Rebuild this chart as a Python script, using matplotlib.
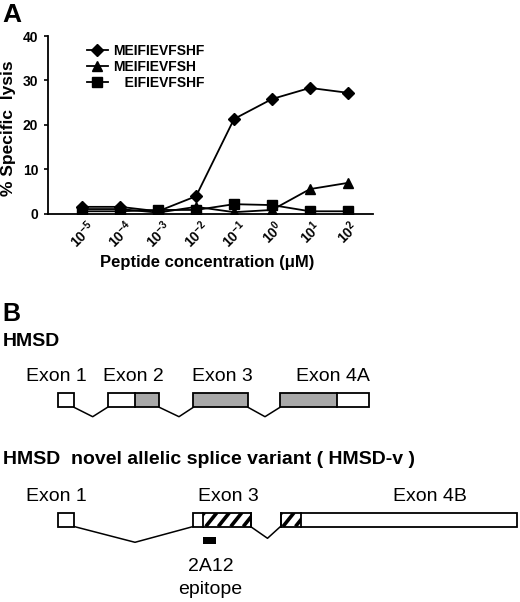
import matplotlib
matplotlib.use("Agg")
import matplotlib.pyplot as plt
import numpy as np
from matplotlib.patches import Rectangle

plt.rcParams['font.family'] = ['Liberation Sans', 'DejaVu Sans']
plt.rcParams['mathtext.fontset'] = 'custom'
plt.rcParams['mathtext.rm'] = 'Liberation Sans'
plt.rcParams['mathtext.bf'] = 'Liberation Sans:bold'

# ---- panel A data: % specific lysis vs peptide concentration
conc_labels = [r'$\mathbf{10^{-5}}$', r'$\mathbf{10^{-4}}$', r'$\mathbf{10^{-3}}$',
               r'$\mathbf{10^{-2}}$', r'$\mathbf{10^{-1}}$', r'$\mathbf{10^{0}}$',
               r'$\mathbf{10^{1}}$', r'$\mathbf{10^{2}}$']
lysis_meifievfshf = [1.5, 1.5, 0.5, 3.9, 21.3, 25.8, 28.3, 27.2]
lysis_meifievfsh = [1.0, 1.0, 0.2, 1.5, 0.3, 0.8, 5.5, 6.9]
lysis_eifievfshf = [0.5, 0.5, 0.8, 0.8, 2.1, 1.9, 0.5, 0.5]

# ---- panel B data: exon structure (x in figure pixels)
hmsd_labels = ["Exon 1", "Exon 2", "Exon 3", "Exon 4A"]
hmsd_start = [57.7, 107.5, 193.3, 280]
hmsd_end = [74, 159.3, 248, 369]
hmsd_gray = [None, (134.5, 159.3), (193.3, 248), (280, 336.7)]
hmsd_label_x = [56, 133, 222, 333]
hmsd_introns = [(74, 92.7, 107.5), (159.3, 179, 193.3), (248, 265, 280)]

var_labels = ["Exon 1", "Exon 3", "Exon 4B"]
var_start = [57.7, 193.3, 280.5]
var_end = [74, 250.5, 517]
var_hatch = [None, (203.3, 250.5), (280.5, 300.5)]
var_label_x = [56, 228, 430]
var_introns = [(74, 135, 193.3), (250.5, 267.5, 280.5)]
epitope = (203.3, 215.5)

fig = plt.figure(figsize=(5.2, 6.02), dpi=100)

ax = fig.add_axes([48 / 520, 1 - 213.5 / 602, 325 / 520, 177.5 / 602])
x = list(range(len(conc_labels)))
ax.plot(x, lysis_meifievfshf, color='black', lw=1.3, marker='D', ms=6.5, label='MEIFIEVFSHF')
ax.plot(x, lysis_meifievfsh, color='black', lw=1.3, marker='^', ms=7, label='MEIFIEVFSH')
ax.plot(x, lysis_eifievfshf, color='black', lw=1.3, marker='s', ms=7, label='   EIFIEVFSHF')
ax.set_xlim(-0.9, 7.66)
ax.set_ylim(0, 40)
ax.set_yticks([0, 10, 20, 30, 40])
ax.set_xticks(x)
ax.set_xticklabels(conc_labels, rotation=45, ha='center', va='top', fontsize=10)
ax.tick_params(axis='x', length=0, pad=3)
ax.tick_params(axis='y', length=3, width=1.2, direction='out', labelsize=10, pad=4)
for t in ax.get_yticklabels():
    t.set_fontweight('bold')
for s in ['top', 'right']:
    ax.spines[s].set_visible(False)
for s in ['left', 'bottom']:
    ax.spines[s].set_linewidth(1.3)
ax.set_ylabel('% Specific  lysis', fontsize=12.5, fontweight='bold')
ax.yaxis.set_label_coords(-32 / 325, 0.479)
ax.set_xlabel('Peptide concentration (\u03bcM)', fontsize=12, fontweight='bold')
ax.xaxis.set_label_coords(0.489, -0.235)
leg = ax.legend(loc='upper left', bbox_to_anchor=(0.12, 0.955), frameon=False,
                borderaxespad=0, borderpad=0, handlelength=1.5, handletextpad=0.35,
                labelspacing=0.15, prop={'weight': 'bold', 'size': 10})

fig.text(2 / 520, 1 - 15 / 602, 'A', fontsize=19, fontweight='bold', va='center', ha='left')
fig.text(2 / 520, 1 - 314 / 602, 'B', fontsize=18, fontweight='bold', va='center', ha='left')

# ---- panel B: gene diagram in pixel coordinates
bx = fig.add_axes([0, 0, 1, 300 / 602])
bx.set_xlim(0, 520)
bx.set_ylim(602, 302)
bx.axis('off')

bx.text(3, 341, 'HMSD', fontsize=14, fontweight='bold', va='center', ha='left')
bx.text(3, 459, 'HMSD  novel allelic splice variant ( HMSD-v )', fontsize=14,
        fontweight='bold', va='center', ha='left')

row1_top, row1_bot = 392.5, 407.3
for lab, x0, x1, g, lx in zip(hmsd_labels, hmsd_start, hmsd_end, hmsd_gray, hmsd_label_x):
    if g is not None:
        bx.add_patch(Rectangle((g[0], row1_top), g[1] - g[0], row1_bot - row1_top,
                               facecolor='#a8a8a8', edgecolor='none'))
    bx.add_patch(Rectangle((x0, row1_top), x1 - x0, row1_bot - row1_top,
                           facecolor='none', edgecolor='black', lw=1.3))
    if g is not None and g[0] > x0:
        bx.plot([g[0], g[0]], [row1_top, row1_bot], color='black', lw=1.3)
    if g is not None and g[1] < x1:
        bx.plot([g[1], g[1]], [row1_top, row1_bot], color='black', lw=1.3)
    bx.text(lx, 376.5, lab, fontsize=14, ha='center', va='center')
for a, m, b in hmsd_introns:
    bx.plot([a, m, b], [row1_bot, 416.7, row1_bot], color='black', lw=1.1)

row2_top, row2_bot = 512.5, 526.5
hh = row2_bot - row2_top
for lab, x0, x1, h, lx in zip(var_labels, var_start, var_end, var_hatch, var_label_x):
    if h is not None:
        clip = Rectangle((h[0], row2_top), h[1] - h[0], hh, facecolor='white', edgecolor='none')
        bx.add_patch(clip)
        for sx in np.arange(h[0] - hh + 4, h[1] + 1, 12.5):
            ln, = bx.plot([sx, sx + hh * 0.8], [row2_bot, row2_top], color='black', lw=2.6,
                          solid_capstyle='butt')
            ln.set_clip_path(clip)
        bx.plot([h[0], h[0]], [row2_top, row2_bot], color='black', lw=1.3)
        bx.plot([h[1], h[1]], [row2_top, row2_bot], color='black', lw=1.3)
    bx.add_patch(Rectangle((x0, row2_top), x1 - x0, hh,
                           facecolor='none', edgecolor='black', lw=1.3))
    bx.text(lx, 496.5, lab, fontsize=14, ha='center', va='center')
bx.plot([var_introns[0][0], var_introns[0][1], var_introns[0][2]],
        [row2_bot, 542.3, row2_bot], color='black', lw=1.1)
bx.plot([var_introns[1][0], var_introns[1][1], var_introns[1][2]],
        [row2_bot, 538.3, row2_bot], color='black', lw=1.1)

bx.add_patch(Rectangle((epitope[0], 536.7), epitope[1] - epitope[0], 7.6,
                       facecolor='black', edgecolor='none'))
bx.text(210.5, 566.5, '2A12', fontsize=14, ha='center', va='center')
bx.text(210.5, 589, 'epitope', fontsize=14, ha='center', va='center')

fig.savefig('out.png', dpi=100)
